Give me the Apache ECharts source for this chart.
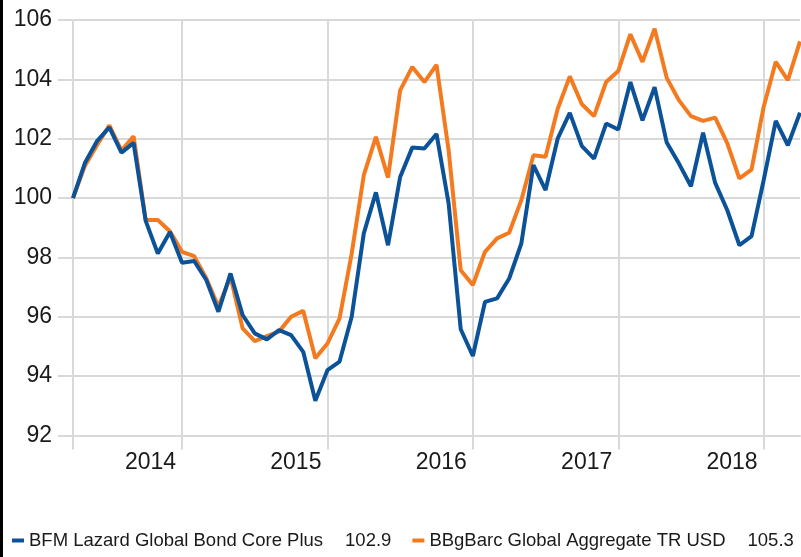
<!DOCTYPE html>
<html>
<head>
<meta charset="utf-8">
<script src="https://cdn.jsdelivr.net/npm/echarts@6/dist/echarts.min.js"></script>
<style>
  html, body { margin: 0; padding: 0; background: #fff; }
  #wrap { position: relative; width: 801px; height: 557px; }
  #chart { width: 801px; height: 557px; }
  #edge { position: absolute; left: 0; top: 0; width: 3px; height: 557px; background: #000; }
</style>
</head>
<body>
<div id="wrap">
  <div id="chart"></div>
  <div id="edge"></div>
</div>
<script>
// monthly index values, Apr 2013 .. Apr 2018
var months = [];
for (var y = 2013, m = 4; months.length < 61; m++) {
  if (m > 12) { m = 1; y++; }
  months.push(y + '-' + (m < 10 ? '0' + m : m));
}

var lazardName = 'BFM Lazard Global Bond Core Plus';
var lazard = [
  100.0, 101.2, 101.93, 102.38, 101.53, 101.86, 99.23, 98.13, 98.86, 97.82,
  97.88, 97.24, 96.17, 97.46, 96.06, 95.44, 95.24, 95.55, 95.38, 94.82,
  93.17, 94.2, 94.49, 96.0, 98.81, 100.19, 98.41, 100.71, 101.7, 101.67,
  102.16, 99.82, 95.58, 94.68, 96.5, 96.62, 97.29, 98.47, 101.11, 100.27,
  102.0, 102.87, 101.75, 101.33, 102.51, 102.31, 103.91, 102.62, 103.74, 101.87,
  101.17, 100.4, 102.2, 100.51, 99.59, 98.41, 98.72, 100.6, 102.6, 101.78,
  102.88
];

var bbgName = 'BBgBarc Global Aggregate TR USD';
var bbg = [
  100.0, 101.1, 101.8, 102.45, 101.6, 102.08, 99.26, 99.26, 98.88, 98.19,
  98.04, 97.3, 96.34, 97.35, 95.61, 95.18, 95.35, 95.5, 96.0, 96.2,
  94.6, 95.1, 95.95, 98.13, 100.77, 102.06, 100.69, 103.63, 104.42, 103.91,
  104.49, 101.61, 97.57, 97.07, 98.19, 98.64, 98.83, 99.93, 101.44, 101.39,
  103.0, 104.1, 103.16, 102.76, 103.91, 104.28, 105.52, 104.59, 105.71, 104.05,
  103.3, 102.76, 102.6, 102.71, 101.84, 100.66, 100.96, 103.07, 104.59, 103.97,
  105.28
];

var lastVal = {};
lastVal[lazardName] = lazard[lazard.length - 1].toFixed(1);
lastVal[bbgName] = bbg[bbg.length - 1].toFixed(1);

var gridGrey = '#d9d9d9';
var isYearStart = function (i) { return i === 0 || (i - 9) % 12 === 0; };

var chart = echarts.init(document.getElementById('chart'));
chart.setOption({
  animation: false,
  textStyle: { fontFamily: 'Liberation Sans, Arial, sans-serif' },
  grid: { left: 73, right: 1, top: 20, bottom: 121.5 },
  legend: {
    data: [lazardName, bbgName],
    left: 12,
    top: 531,
    width: 1000,
    padding: 0,
    icon: 'rect',
    itemWidth: 12,
    itemHeight: 4,
    itemGap: 21,
    formatter: function (name) { return name + '{v|' + lastVal[name] + '}'; },
    textStyle: {
      fontSize: 18.5,
      color: '#1a1a1a',
      rich: { v: { fontSize: 18.5, color: '#1a1a1a', padding: [0, 0, 0, 22] } }
    }
  },
  xAxis: {
    type: 'category',
    data: months,
    boundaryGap: false,
    axisLine: { lineStyle: { color: gridGrey, width: 2 } },
    axisTick: { show: true, length: 14, interval: isYearStart, lineStyle: { color: gridGrey, width: 2 } },
    splitLine: { show: true, interval: isYearStart, lineStyle: { color: gridGrey, width: 2 } },
    axisLabel: {
      interval: function (i) { return i > 0 && (i - 9) % 12 === 0; },
      formatter: function (v) { return v.slice(0, 4); },
      align: 'right',
      padding: [0, 6, 0, 0],
      margin: 16,
      fontSize: 23,
      color: '#1a1a1a'
    }
  },
  yAxis: {
    type: 'value',
    min: 92,
    max: 106,
    interval: 2,
    axisLine: { show: true, lineStyle: { color: gridGrey, width: 2 } },
    axisTick: { show: true, length: 15, lineStyle: { color: gridGrey, width: 2 } },
    splitLine: { lineStyle: { color: gridGrey, width: 2 } },
    axisLabel: { margin: 21, fontSize: 23, color: '#1a1a1a' }
  },
  series: [
    {
      name: bbgName,
      type: 'line',
      data: bbg,
      symbol: 'none',
      itemStyle: { color: '#f47a20' },
      lineStyle: { color: '#f47a20', width: 4 }
    },
    {
      name: lazardName,
      type: 'line',
      data: lazard,
      symbol: 'none',
      itemStyle: { color: '#0b5299' },
      lineStyle: { color: '#0b5299', width: 4 }
    }
  ]
});
</script>
</body>
</html>
